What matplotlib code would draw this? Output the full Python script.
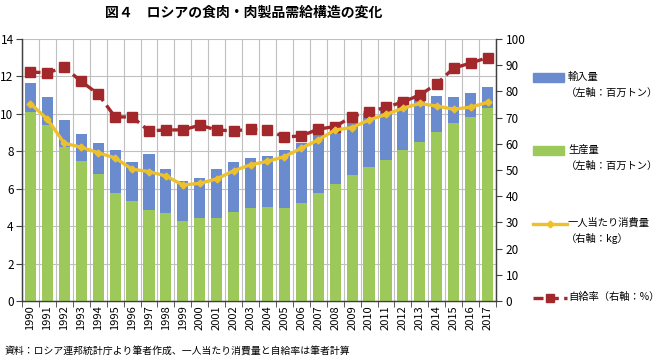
import matplotlib
matplotlib.use("Agg")
import matplotlib.pyplot as plt
import numpy as np
from matplotlib.lines import Line2D
from matplotlib.patches import Rectangle

plt.rcParams['font.family'] = ['Noto Sans CJK JP', 'DejaVu Sans']

years = [str(y) for y in range(1990, 2018)]
total_supply = [11.64, 10.89, 9.68, 8.91, 8.43, 8.05, 7.45, 7.86, 7.05, 6.41,
                6.55, 7.04, 7.43, 7.66, 7.75, 8.07, 8.43, 8.96, 9.54, 9.64,
                10.04, 10.30, 10.75, 11.00, 10.98, 10.89, 11.13, 11.43]
production = [10.10, 9.38, 8.25, 7.50, 6.79, 5.79, 5.32, 4.84, 4.70, 4.30,
              4.45, 4.46, 4.73, 4.96, 5.04, 4.96, 5.23, 5.77, 6.27, 6.71,
              7.16, 7.52, 8.07, 8.52, 9.02, 9.52, 9.84, 10.32]
imports = [t - p for t, p in zip(total_supply, production)]
per_capita = [75.3, 69.4, 60.2, 58.7, 56.6, 54.6, 50.3, 49.4, 47.7, 44.3,
              44.9, 46.6, 49.7, 52.0, 53.3, 55.1, 58.3, 61.5, 65.3, 66.2,
              69.1, 71.2, 73.6, 75.4, 74.4, 73.2, 74.0, 75.8]
self_suff = [87.4, 87.1, 89.2, 83.8, 79.0, 70.2, 70.3, 64.9, 65.3, 65.3,
             67.1, 65.3, 64.9, 65.6, 65.3, 62.6, 63.0, 65.6, 66.6, 70.4,
             72.3, 73.9, 76.0, 78.6, 82.9, 88.9, 90.8, 92.9]

label_imports = ["輸入量", "（左軸：百万トン）"]
label_prod = ["生産量", "（左軸：百万トン）"]
label_pc = ["一人当たり消費量", "（右軸：kg）"]
label_ss = "自給率（右軸：%）"
title = "図４　ロシアの食肉・肉製品需給構造の変化"
source = "資料：ロシア連邦統計庁より筆者作成、一人当たり消費量と自給率は筆者計算"

c_blue = "#6A8CCF"
c_green = "#9DC85A"
c_gold = "#EDC02C"
c_red = "#A3282B"
c_grid = "#C0C0C0"

W, H = 662, 360
fig = plt.figure(figsize=(W / 100, H / 100), dpi=100)
ax = fig.add_axes([22 / W, 59 / H, (496 - 22) / W, (301 - 39) / H])
ax2 = ax.twinx()

x = np.arange(len(years))
bw = 0.66
ax.bar(x, production, width=bw, color=c_green, zorder=3)
ax.bar(x, imports, width=bw, bottom=production, color=c_blue, zorder=3)

ax.set_xlim(-0.5, len(years) - 0.5)
ax.set_ylim(0, 14)
ax.set_yticks(np.arange(0, 15, 2))
ax.set_xticks(x)
ax.set_xticklabels(years, rotation=90, fontsize=8)
ax.set_xticks(np.arange(-0.5, len(years)), minor=True)
ax.tick_params(axis='x', which='major', length=0, pad=3)
ax.tick_params(axis='x', which='minor', length=4, direction='out', color='#404040')
ax.tick_params(axis='y', labelsize=8.5, length=4, direction='out', color='#404040', pad=2)
ax.grid(axis='y', color=c_grid, lw=0.8, zorder=0)
ax.grid(axis='x', which='minor', color=c_grid, lw=0.8, zorder=0)
ax.set_axisbelow(True)

ax2.plot(x, self_suff, color=c_red, lw=2.4, ls=(0, (3, 1.6)), marker='s',
         markersize=6.5, zorder=5)
ax2.plot(x, per_capita, color=c_gold, lw=2.4, marker='D', markersize=3.5, zorder=6)
ax2.set_ylim(0, 100)
ax2.set_yticks(np.arange(0, 101, 10))
ax2.tick_params(axis='y', labelsize=8.5, length=4, direction='out', color='#404040', pad=3)

for a in (ax, ax2):
    a.spines['top'].set_visible(False)
    for s in ('left', 'right', 'bottom'):
        a.spines[s].set_color('#404040')
        a.spines[s].set_linewidth(0.9)

fig.text(244 / W, 1 - 13 / H, title, ha='center', va='center', fontsize=10, fontweight='bold')
fig.text(5 / W, 1 - 351 / H, source, ha='left', va='center', fontsize=7.1)

def fx(px):
    return px / W

def fy(py):
    return 1 - py / H

tf = fig.transFigure
fs_leg = 7.4
# legend: imports
fig.patches.append(Rectangle((fx(533), fy(82)), (564 - 533) / W, 9 / H, color=c_blue, transform=tf))
fig.text(fx(568), fy(77), label_imports[0], fontsize=fs_leg, va='center', ha='left')
fig.text(fx(566), fy(93), label_imports[1], fontsize=fs_leg, va='center', ha='left')
# production
fig.patches.append(Rectangle((fx(533), fy(155)), (564 - 533) / W, 9 / H, color=c_green, transform=tf))
fig.text(fx(568), fy(150), label_prod[0], fontsize=fs_leg, va='center', ha='left')
fig.text(fx(566), fy(166), label_prod[1], fontsize=fs_leg, va='center', ha='left')
# per capita
fig.lines.append(Line2D([fx(533), fx(567)], [fy(224), fy(224)], color=c_gold, lw=2.4,
                        transform=tf))
fig.lines.append(Line2D([fx(550)], [fy(224)], color=c_gold, marker='D', markersize=3.5,
                        transform=tf))
fig.text(fx(568), fy(223), label_pc[0], fontsize=fs_leg, va='center', ha='left')
fig.text(fx(566), fy(239), label_pc[1], fontsize=fs_leg, va='center', ha='left')
# self sufficiency
fig.lines.append(Line2D([fx(533), fx(567)], [fy(298), fy(298)], color=c_red, lw=2.4,
                        ls=(0, (3, 1.6)), transform=tf))
fig.lines.append(Line2D([fx(550)], [fy(298)], color=c_red, marker='s', markersize=5.5,
                        transform=tf))
fig.text(fx(568), fy(297), label_ss, fontsize=fs_leg, va='center', ha='left')

fig.savefig("out.png", dpi=100)
